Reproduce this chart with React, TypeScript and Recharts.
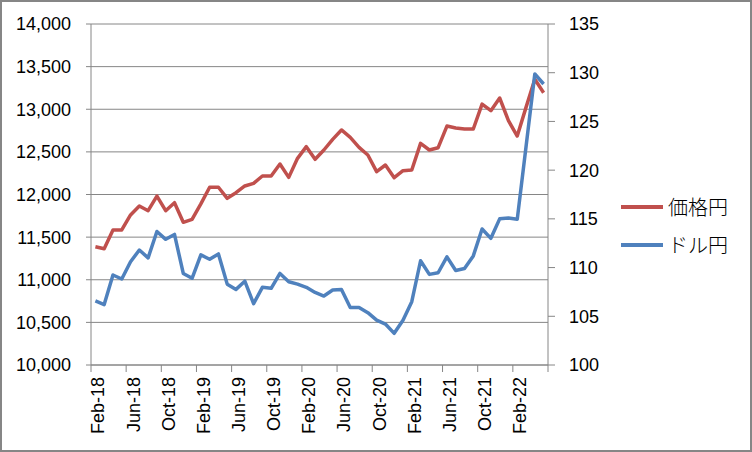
import React from "react";
import {
  LineChart,
  Line,
  XAxis,
  YAxis,
  CartesianGrid,
  Legend,
} from "recharts";

// months, Feb-18 .. May-22
const months = [
  "Feb-18", "Mar-18", "Apr-18", "May-18", "Jun-18", "Jul-18", "Aug-18", "Sep-18",
  "Oct-18", "Nov-18", "Dec-18", "Jan-19", "Feb-19", "Mar-19", "Apr-19", "May-19",
  "Jun-19", "Jul-19", "Aug-19", "Sep-19", "Oct-19", "Nov-19", "Dec-19", "Jan-20",
  "Feb-20", "Mar-20", "Apr-20", "May-20", "Jun-20", "Jul-20", "Aug-20", "Sep-20",
  "Oct-20", "Nov-20", "Dec-20", "Jan-21", "Feb-21", "Mar-21", "Apr-21", "May-21",
  "Jun-21", "Jul-21", "Aug-21", "Sep-21", "Oct-21", "Nov-21", "Dec-21", "Jan-22",
  "Feb-22", "Mar-22", "Apr-22", "May-22",
];

// 価格円 (left axis)
const priceYen = [
  11388, 11364, 11584, 11584, 11760, 11865, 11810, 11982, 11810, 11904, 11674, 11709,
  11890, 12085, 12085, 11955, 12021, 12100, 12131, 12217, 12217, 12358, 12201, 12424,
  12561, 12413, 12522, 12647, 12757, 12671, 12553, 12463, 12268, 12346, 12197, 12279,
  12287, 12600, 12522, 12549, 12803, 12780, 12768, 12768, 13061, 12983, 13132, 12866,
  12686, 13022, 13351, 13194,
];

// ドル円 (right axis)
const usdJpy = [
  106.57, 106.2, 109.24, 108.83, 110.6, 111.8, 111.0, 113.7, 112.9, 113.4, 109.4, 108.9,
  111.3, 110.85, 111.4, 108.3, 107.76, 108.6, 106.3, 107.97, 107.87, 109.4, 108.55, 108.3,
  107.97, 107.45, 107.08, 107.7, 107.76, 105.9, 105.9, 105.37, 104.6, 104.2, 103.25, 104.6,
  106.5, 110.7, 109.3, 109.47, 111.1, 109.7, 109.9, 111.2, 113.96, 113.0, 115.0, 115.09,
  114.95, 122.4, 129.87, 128.84,
];

const leftTicks = [10000, 10500, 11000, 11500, 12000, 12500, 13000, 13500, 14000];
const rightTicks = [100, 105, 110, 115, 120, 125, 130, 135];

const data = months.map((m, i) => ({ month: m, price: priceYen[i], usd: usdJpy[i] }));

const RED = "#C0504D";
const BLUE = "#4F81BD";
const GRID = "#868686";
const FONT = "'Liberation Sans', Arial, sans-serif";

const PLOT_W = 457;
const HALF = PLOT_W / months.length / 2;

// rotated month label + tick mark on the category boundary
function MonthTick(props: any) {
  const { x, y, payload } = props;
  const tx = x + 3;
  return (
    <g>
      <line x1={x - HALF} x2={x - HALF} y1={y - 12} y2={y - 5} stroke={GRID} />
      {payload.value === "Feb-22" && (
        <line
          x1={x - HALF + HALF * 8}
          x2={x - HALF + HALF * 8}
          y1={y - 12}
          y2={y - 5}
          stroke={GRID}
        />
      )}
      <text
        x={tx}
        y={y}
        transform={`rotate(-90 ${tx} ${y})`}
        textAnchor="end"
        dominantBaseline="central"
        fontSize={18}
        fontFamily={FONT}
        fill="#000"
      >
        {payload.value}
      </text>
    </g>
  );
}

function LegendBox() {
  const items = [
    { label: "価格円", color: RED },
    { label: "ドル円", color: BLUE },
  ];
  return (
    <div>
      {items.map((it) => (
        <div
          key={it.label}
          style={{ display: "flex", alignItems: "center", height: 38 }}
        >
          <svg width={44} height={8} style={{ display: "block" }}>
            <line x1={1} x2={43} y1={4} y2={4} stroke={it.color} strokeWidth={4} />
          </svg>
          <span
            style={{
              marginLeft: 4,
              fontSize: 20,
              fontFamily: "'Noto Sans CJK JP', sans-serif",
              fontWeight: 300,
              color: "#000",
              letterSpacing: 0,
              lineHeight: "20px",
            }}
          >
            {it.label}
          </span>
        </div>
      ))}
    </div>
  );
}

export default function App() {
  return (
    <div style={{ position: "absolute", left: 0, top: 0, width: 752, height: 452, background: "#fff" }}>
      <div
        style={{
          position: "absolute",
          inset: 0,
          border: `2px solid ${GRID}`,
          boxSizing: "border-box",
        }}
      />
      <LineChart
        width={752}
        height={452}
        data={data}
        margin={{ top: 24, right: 0, left: 0, bottom: 0 }}
      >
        <CartesianGrid yAxisId="left" vertical={false} stroke={GRID} />
        <XAxis
          dataKey="month"
          interval={3}
          height={87}
          padding={{ left: HALF, right: HALF }}
          tickLine={false}
          tickSize={7}
          tickMargin={5}
          axisLine={{ stroke: GRID }}
          tick={<MonthTick />}
        />
        <YAxis
          yAxisId="left"
          orientation="left"
          width={91}
          domain={[10000, 14000]}
          ticks={leftTicks}
          allowDataOverflow
          tickSize={5}
          tickMargin={15}
          axisLine={{ stroke: GRID }}
          tickLine={{ stroke: GRID }}
          tick={{ fill: "#000", fontSize: 18, fontFamily: FONT }}
          tickFormatter={(v: number) => v.toLocaleString("en-US")}
        />
        <YAxis
          yAxisId="right"
          orientation="right"
          width={204}
          domain={[100, 135]}
          ticks={rightTicks}
          allowDataOverflow
          tickSize={7}
          tickMargin={14}
          axisLine={{ stroke: GRID }}
          tickLine={{ stroke: GRID }}
          tick={{ fill: "#000", fontSize: 18, fontFamily: FONT }}
        />
        <Legend
          layout="horizontal"
          align="center"
          verticalAlign="middle"
          content={<LegendBox />}
          wrapperStyle={{ left: 620, top: 188, width: 130 }}
        />
        <Line
          yAxisId="left"
          dataKey="price"
          name="価格円"
          type="linear"
          stroke={RED}
          strokeWidth={3.5}
          strokeLinejoin="round"
          dot={false}
          activeDot={false}
          isAnimationActive={false}
        />
        <Line
          yAxisId="right"
          dataKey="usd"
          name="ドル円"
          type="linear"
          stroke={BLUE}
          strokeWidth={3.5}
          strokeLinejoin="round"
          dot={false}
          activeDot={false}
          isAnimationActive={false}
        />
      </LineChart>
    </div>
  );
}
